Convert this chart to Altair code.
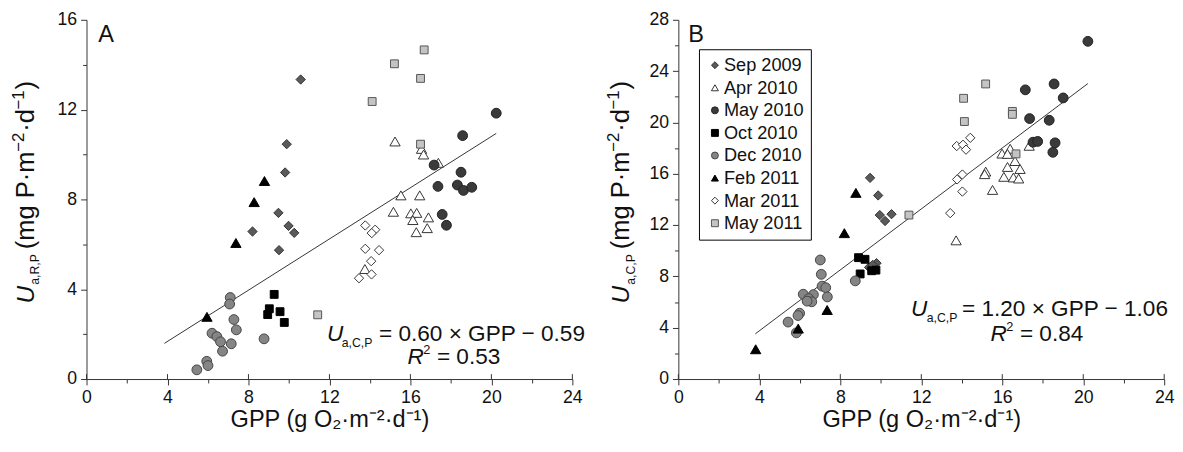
import altair as alt
import pandas as pd

FONT = "Liberation Sans"
TXT = "#111111"
AX = "#333333"

# ---------------- categories & styles ----------------
periods = ["Sep 2009", "Apr 2010", "May 2010", "Oct 2010",
           "Dec 2010", "Feb 2011", "Mar 2011", "May 2011"]
shapes = ["diamond", "triangle-up", "circle", "square",
          "circle", "triangle-up", "diamond", "square"]
fills = ["#5a5a5a", "#ffffff", "#3a3a3a", "#000000",
         "#858585", "#000000", "#ffffff", "#c4c4c4"]
strokes = ["#333333", "#333333", "#222222", "#000000",
           "#444444", "#000000", "#333333", "#555555"]
sizes = [90, 110, 100, 64, 100, 110, 90, 64]

# ---------------- tick labels ----------------
x_ticks = list(range(0, 25, 2))
yA_ticks = list(range(0, 17, 2))
yB_ticks = list(range(0, 29, 2))
x_major = list(range(0, 25, 4))

# ---------------- Panel A data (GPP, U_a,R,P) ----------------
sep09_A_gpp = [10.58, 9.89, 9.81, 9.48, 8.20, 9.98, 10.26, 9.51]
sep09_A_u = [13.34, 10.46, 9.20, 7.40, 6.57, 6.82, 6.51, 5.74]
apr10_A_gpp = [15.24, 16.55, 16.65, 17.38, 15.53, 16.46, 15.16, 16.02, 16.31, 16.12, 16.89, 16.29, 16.83, 13.75]
apr10_A_u = [10.58, 10.25, 10.00, 9.63, 8.18, 8.18, 7.45, 7.38, 7.40, 7.08, 7.20, 6.54, 6.72, 4.90]
may10_A_gpp = [20.24, 18.58, 17.17, 18.50, 17.36, 18.32, 18.62, 19.03, 17.57, 17.78]
may10_A_u = [11.84, 10.84, 9.53, 9.21, 8.58, 8.64, 8.40, 8.54, 7.33, 6.85]
oct10_A_gpp = [9.27, 9.03, 8.95, 9.56, 9.77]
oct10_A_u = [3.77, 3.13, 2.87, 3.00, 2.52]
dec10_A_gpp = [7.10, 7.07, 7.28, 7.40, 6.20, 6.44, 6.62, 7.15, 6.72, 8.77, 5.94, 6.00, 5.45]
dec10_A_u = [3.63, 3.34, 2.65, 2.19, 2.04, 1.89, 1.66, 1.57, 1.24, 1.79, 0.79, 0.60, 0.41]
feb11_A_gpp = [8.79, 8.28, 7.38, 5.95]
feb11_A_u = [8.82, 7.88, 6.06, 2.77]
mar11_A_gpp = [13.77, 14.26, 14.09, 13.77, 14.45, 14.06, 14.08, 13.46]
mar11_A_u = [6.84, 6.65, 6.50, 5.80, 5.74, 5.25, 4.66, 4.49]
may11_A_gpp = [16.68, 15.21, 16.50, 14.11, 16.50, 11.42]
may11_A_u = [14.66, 14.04, 13.39, 12.36, 10.46, 2.86]
lineA_gpp = [3.85, 20.24]
lineA_u = [1.59, 10.94]

# ---------------- Panel B data (GPP, U_a,C,P) ----------------
sep09_B_gpp = [9.47, 9.87, 9.95, 10.21, 10.53, 9.79, 9.42, 9.60]
sep09_B_u = [15.68, 14.31, 12.78, 12.32, 12.85, 9.03, 8.70, 8.90]
apr10_B_gpp = [16.39, 15.99, 16.26, 17.33, 16.63, 16.26, 16.88, 15.18, 15.13, 16.08, 16.55, 16.81, 15.52, 13.72]
apr10_B_u = [17.95, 17.57, 17.55, 18.18, 16.99, 16.53, 16.37, 16.17, 15.97, 15.76, 15.71, 15.63, 14.74, 10.81]
may10_B_gpp = [20.23, 18.56, 17.14, 19.01, 17.35, 18.32, 17.52, 17.75, 18.61, 18.50]
may10_B_u = [26.32, 23.00, 22.54, 21.91, 20.30, 20.17, 18.46, 18.52, 18.41, 17.67]
oct10_B_gpp = [8.90, 9.22, 8.98, 9.55, 9.76]
oct10_B_u = [9.46, 9.33, 8.19, 8.44, 8.49]
dec10_B_gpp = [7.01, 7.06, 7.10, 7.28, 7.36, 6.17, 6.67, 6.44, 6.59, 6.36, 8.74, 5.99, 5.91, 5.42, 5.83]
dec10_B_u = [9.28, 8.16, 7.24, 7.12, 6.40, 6.61, 6.58, 6.27, 6.02, 6.07, 7.65, 5.13, 4.95, 4.44, 3.60]
feb11_B_gpp = [8.77, 8.20, 7.35, 5.92, 3.82]
feb11_B_u = [14.51, 11.37, 5.38, 3.93, 2.32]
mar11_B_gpp = [14.42, 13.75, 14.06, 14.21, 14.03, 13.77, 14.03, 13.43]
mar11_B_u = [18.80, 18.16, 18.26, 17.88, 15.94, 15.56, 14.61, 12.93]
may11_B_gpp = [15.18, 14.09, 14.13, 16.50, 16.50, 16.68, 11.39]
may11_B_u = [23.00, 21.88, 20.07, 20.86, 20.63, 17.55, 12.78]
lineB_gpp = [3.80, 20.23]
lineB_u = [3.52, 23.03]

SIZE = dict(zip(periods, sizes))


def build(series):
    rows = []
    for p, g, u in series:
        for gi, ui in zip(g, u):
            rows.append({"period": p, "gpp": gi, "u": ui, "sz": SIZE[p]})
    return pd.DataFrame(rows)


dfA = build([
    ("Sep 2009", sep09_A_gpp, sep09_A_u), ("Apr 2010", apr10_A_gpp, apr10_A_u),
    ("May 2010", may10_A_gpp, may10_A_u), ("Oct 2010", oct10_A_gpp, oct10_A_u),
    ("Dec 2010", dec10_A_gpp, dec10_A_u), ("Feb 2011", feb11_A_gpp, feb11_A_u),
    ("Mar 2011", mar11_A_gpp, mar11_A_u), ("May 2011", may11_A_gpp, may11_A_u),
])
dfB = build([
    ("Sep 2009", sep09_B_gpp, sep09_B_u), ("Apr 2010", apr10_B_gpp, apr10_B_u),
    ("May 2010", may10_B_gpp, may10_B_u), ("Oct 2010", oct10_B_gpp, oct10_B_u),
    ("Dec 2010", dec10_B_gpp, dec10_B_u), ("Feb 2011", feb11_B_gpp, feb11_B_u),
    ("Mar 2011", mar11_B_gpp, mar11_B_u), ("May 2011", may11_B_gpp, may11_B_u),
])

W, H = 495, 366
one = pd.DataFrame({"k": [0]})

# approximate advance widths (em) of Liberation Sans, for laying out rotated title pieces
EM = {"(": .333, ")": .333, "m": .833, "g": .556, " ": .278, "P": .667, "·": .278,
      "−": .584, "2": .556, "1": .556, "d": .556, "a": .556, ",": .278, "R": .722,
      "C": .722, "U": .722}


def tw(s, size):
    return sum(EM.get(c, .556) for c in s) * size


def txt(text, x, y, size, angle=0, italic=False, align="left"):
    kw = dict(text=text, font=FONT, fontSize=size, color=TXT, align=align,
              baseline="alphabetic", angle=angle)
    if italic:
        kw["fontStyle"] = "italic"
    return alt.Chart(one).mark_text(**kw).encode(x=alt.value(x), y=alt.value(y))


def vtitle(sub, x0, y0):
    # (text, font size, italic, baseline shift, gap before)
    pieces = [("U", 25, True, 0, 0), (sub, 12.5, False, 6, 1), ("(mg P·m", 26, False, 0, 5),
              ("−2", 17, False, -10, 1), ("·d", 26, False, 0, 1), ("−1", 17, False, -10, 1),
              (")", 26, False, 0, 1)]
    out, y = [], y0
    for t, s, it, sh, gap in pieces:
        y -= gap
        out.append(txt(t, x0 + sh, y, s, angle=270, italic=it))
        y -= tw(t, s)
    return out


def panel(df, lg, lu, ymax, yticks, legend, texts):
    xs = alt.Scale(domain=[0, 24], nice=False, zero=False)
    ys = alt.Scale(domain=[0, ymax], nice=False, zero=False)
    xaxis = alt.Axis(values=x_ticks, labelExpr="datum.value % 4 === 0 ? datum.label : ''",
                     tickSize={"condition": {"test": "datum.value % 4 === 0", "value": 6}, "value": 4},
                     title="GPP (g O₂·m⁻²·d⁻¹)", labelPadding=4, titlePadding=1, labelFlush=False)
    yaxis = alt.Axis(values=yticks, labelExpr="datum.value % 4 === 0 ? datum.label : ''",
                     tickSize={"condition": {"test": "datum.value % 4 === 0", "value": 6}, "value": 4},
                     title=None, labelPadding=4, labelFlush=False)
    x = alt.X("gpp:Q", scale=xs, axis=xaxis)
    y = alt.Y("u:Q", scale=ys, axis=yaxis)

    line_df = pd.DataFrame({"gpp": lg, "u": lu})
    line = alt.Chart(line_df).mark_line(color="#333333", strokeWidth=1).encode(x=x, y=y)

    tick_df = pd.DataFrame({"gpp": x_major})
    inner = alt.Chart(tick_df).mark_rule(color=AX, strokeWidth=1).encode(
        x=alt.X("gpp:Q", scale=xs, axis=xaxis), y=alt.value(H - 5), y2=alt.value(H))

    pts = alt.Chart(df).mark_point(filled=True, opacity=1, strokeWidth=1).encode(
        x=x, y=y,
        shape=alt.Shape("period:N", scale=alt.Scale(domain=periods, range=shapes), legend=legend),
        fill=alt.Fill("period:N", scale=alt.Scale(domain=periods, range=fills), legend=legend),
        stroke=alt.Stroke("period:N", scale=alt.Scale(domain=periods, range=strokes), legend=legend),
        size=alt.Size("sz:Q", scale=None, legend=None),
    )
    layers = [line, inner, pts] + texts
    return alt.layer(*layers).properties(width=W, height=H)


legB = alt.Legend(title=None, orient="none", legendX=21, legendY=30, strokeColor="black",
                  fillColor="white", padding=7, labelFont=FONT, labelFontSize=18.5,
                  labelColor=TXT, symbolSize=50, symbolStrokeWidth=1, rowPadding=4,
                  labelOffset=0)

textsA = [txt("A", 12, 23, 24)] + vtitle("a,R,P", -54, 289) + [
    txt("U", 245, 327, 23, italic=True),
    txt("a,C,P", 260, 333, 12.5),
    txt("= 0.60 × GPP − 0.59", 298, 327, 23),
    txt("R", 327, 351, 23, italic=True),
    txt("2", 343, 341, 13),
    txt("= 0.53", 357, 351, 23),
]
textsB = [txt("B", 10, 23, 24)] + vtitle("a,C,P", -50, 289) + [
    txt("U", 237, 302, 23, italic=True),
    txt("a,C,P", 253, 308, 12.5),
    txt("= 1.20 × GPP − 1.06", 289, 302, 23),
    txt("R", 318, 327, 23, italic=True),
    txt("2", 334, 317, 13),
    txt("= 0.84", 348, 327, 23),
]

A = panel(dfA, lineA_gpp, lineA_u, 16, yA_ticks, None, textsA)
B = panel(dfB, lineB_gpp, lineB_u, 28, yB_ticks, legB, textsB)

chart = alt.hconcat(A, B, spacing=19).resolve_legend(
    shape="independent", fill="independent", stroke="independent"
).configure_view(stroke=None).configure_axis(
    domainColor=AX, tickColor=AX, domainWidth=1, tickWidth=1, grid=False,
    labelFont=FONT, labelFontSize=18, labelColor=TXT,
    titleFont=FONT, titleFontSize=24, titleColor=TXT, titleFontWeight="normal",
).properties(padding={"left": 1, "top": -1, "right": 0, "bottom": 0})

chart.save("out.html", embed_options={"renderer": "svg", "actions": False})
